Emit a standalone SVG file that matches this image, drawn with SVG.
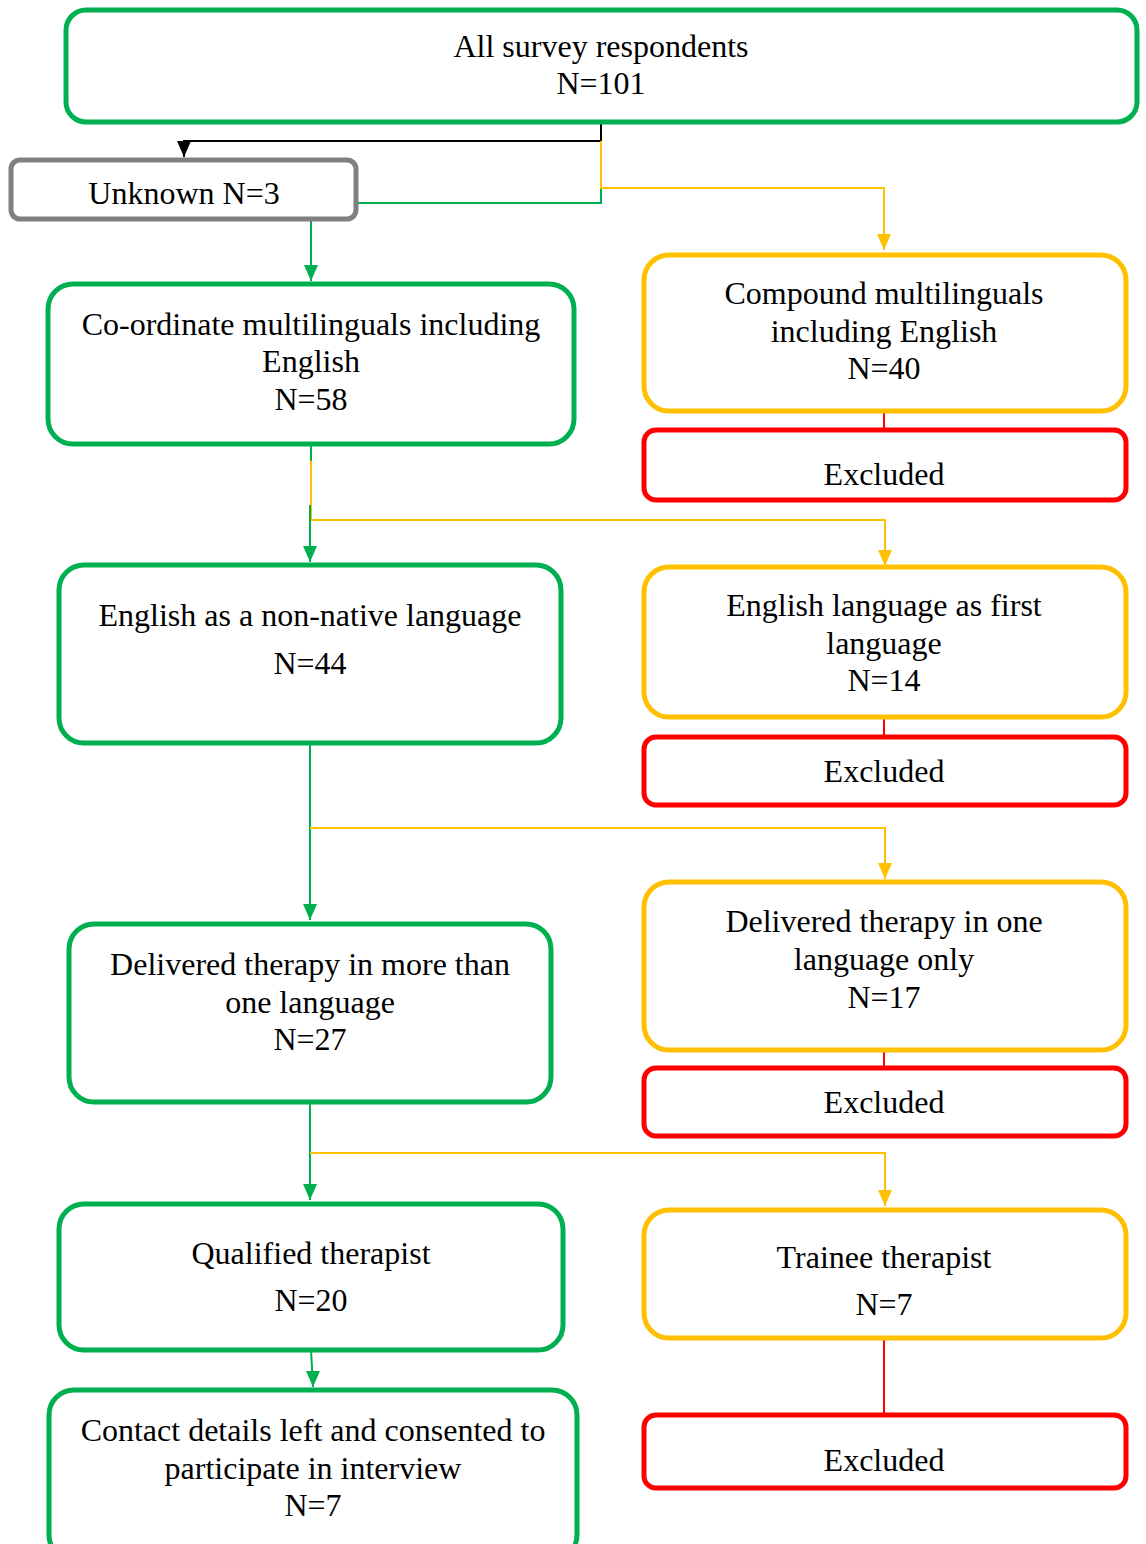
<svg xmlns="http://www.w3.org/2000/svg" width="1146" height="1544" viewBox="0 0 1146 1544">
<style>
.n{fill:#fff;stroke-width:5}
.g{stroke:#00B050}
.y{stroke:#FFC000}
.r{stroke:#FF0000}
.k{stroke:#808080}
text{font-family:"Liberation Serif","Times New Roman",serif;font-size:32px;fill:#000;text-anchor:middle}
.c{fill:none;stroke-width:2}
</style>
<defs>
<marker id="ag" markerUnits="userSpaceOnUse" markerWidth="14" markerHeight="16" refX="7" refY="16" viewBox="0 0 14 16"><path d="M0,0L14,0L7,16z" fill="#00B050"/></marker>
<marker id="ay" markerUnits="userSpaceOnUse" markerWidth="14" markerHeight="16" refX="7" refY="16" viewBox="0 0 14 16"><path d="M0,0L14,0L7,16z" fill="#FFC000"/></marker>
<marker id="ak" markerUnits="userSpaceOnUse" markerWidth="14" markerHeight="16" refX="7" refY="16" viewBox="0 0 14 16"><path d="M0,0L14,0L7,16z" fill="#000"/></marker>
</defs>
<rect width="1146" height="1544" fill="#fff"/>
<g id="connectors">
<path class="c" stroke="#000" d="M601,122V141H184V157" marker-end="url(#ak)"/>
<path class="c" stroke="#FFC000" d="M601,141V188H884V250" marker-end="url(#ay)"/>
<path class="c" stroke="#00B050" d="M358,203H601V189"/>
<path class="c" stroke="#00B050" d="M311,221V281" marker-end="url(#ag)"/>
<path class="c" stroke="#FF0000" d="M884,411V430"/>
<path class="c" stroke="#00B050" d="M311,444V461"/>
<path class="c" stroke="#FFC000" d="M311,461V520H885V566" marker-end="url(#ay)"/>
<path class="c" stroke="#00B050" d="M310,505V562" marker-end="url(#ag)"/>
<path class="c" stroke="#FF0000" d="M884,717V737"/>
<path class="c" stroke="#00B050" d="M310,743V920" marker-end="url(#ag)"/>
<path class="c" stroke="#FFC000" d="M310,828H885V879" marker-end="url(#ay)"/>
<path class="c" stroke="#FF0000" d="M884,1050V1068"/>
<path class="c" stroke="#00B050" d="M310,1102V1200" marker-end="url(#ag)"/>
<path class="c" stroke="#FFC000" d="M310,1153H885V1206" marker-end="url(#ay)"/>
<path class="c" stroke="#FF0000" d="M884,1338V1415"/>
<path class="c" stroke="#00B050" d="M311,1350L313,1387" marker-end="url(#ag)"/>
</g>
<g id="all">
<rect class="n g" x="66" y="10" width="1071" height="112" rx="20"/>
<text x="601" y="57">All survey respondents</text>
<text x="601" y="94">N=101</text>
</g>
<g id="unknown">
<rect class="n k" x="11" y="160" width="345" height="59" rx="9"/>
<text x="184" y="204">Unknown N=3</text>
</g>
<g id="coordinate">
<rect class="n g" x="48" y="284" width="526" height="160" rx="25"/>
<text x="311" y="335">Co-ordinate multilinguals including</text>
<text x="311" y="372">English</text>
<text x="311" y="410">N=58</text>
</g>
<g id="compound">
<rect class="n y" x="644" y="255" width="482" height="156" rx="25"/>
<text x="884" y="304">Compound multilinguals</text>
<text x="884" y="342">including English</text>
<text x="884" y="379">N=40</text>
</g>
<g id="excluded1">
<rect class="n r" x="644" y="430" width="482" height="70" rx="12"/>
<text x="884" y="485">Excluded</text>
</g>
<g id="nonnative">
<rect class="n g" x="59" y="565" width="502" height="178" rx="25"/>
<text x="310" y="626">English as a non-native language</text>
<text x="310" y="674">N=44</text>
</g>
<g id="firstlang">
<rect class="n y" x="644" y="567" width="482" height="150" rx="25"/>
<text x="884" y="616">English language as first</text>
<text x="884" y="654">language</text>
<text x="884" y="691">N=14</text>
</g>
<g id="excluded2">
<rect class="n r" x="644" y="737" width="482" height="68" rx="12"/>
<text x="884" y="782">Excluded</text>
</g>
<g id="morethanone">
<rect class="n g" x="69" y="924" width="482" height="178" rx="25"/>
<text x="310" y="975">Delivered therapy in more than</text>
<text x="310" y="1013">one language</text>
<text x="310" y="1050">N=27</text>
</g>
<g id="oneonly">
<rect class="n y" x="644" y="882" width="482" height="168" rx="25"/>
<text x="884" y="932">Delivered therapy in one</text>
<text x="884" y="970">language only</text>
<text x="884" y="1008">N=17</text>
</g>
<g id="excluded3">
<rect class="n r" x="644" y="1068" width="482" height="68" rx="12"/>
<text x="884" y="1113">Excluded</text>
</g>
<g id="qualified">
<rect class="n g" x="59" y="1204" width="504" height="146" rx="25"/>
<text x="311" y="1264">Qualified therapist</text>
<text x="311" y="1311">N=20</text>
</g>
<g id="trainee">
<rect class="n y" x="644" y="1210" width="482" height="128" rx="25"/>
<text x="884" y="1268">Trainee therapist</text>
<text x="884" y="1315">N=7</text>
</g>
<g id="excluded4">
<rect class="n r" x="644" y="1415" width="482" height="73" rx="12"/>
<text x="884" y="1471">Excluded</text>
</g>
<g id="contact">
<rect class="n g" x="49" y="1390" width="528" height="170" rx="25"/>
<text x="313" y="1441">Contact details left and consented to</text>
<text x="313" y="1479">participate in interview</text>
<text x="313" y="1516">N=7</text>
</g>
</svg>
